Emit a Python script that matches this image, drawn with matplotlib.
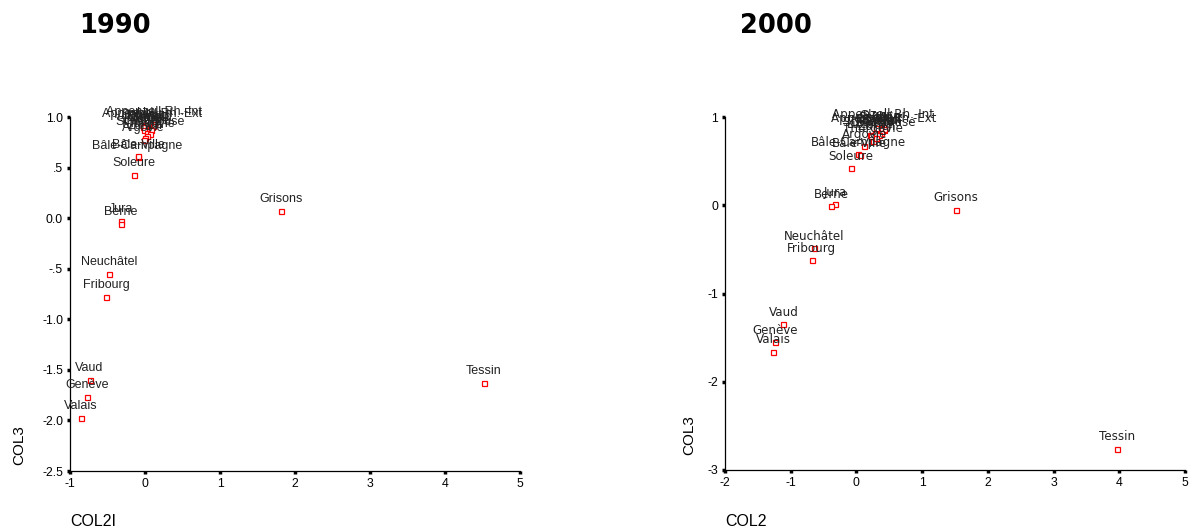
import matplotlib
matplotlib.use("Agg")
import matplotlib.pyplot as plt

plt.rcParams["axes.unicode_minus"] = False

# ---------------- data ----------------
cantons_1990 = ["Tessin", "Grisons", "Neuchâtel", "Fribourg", "Vaud", "Genève", "Valais",
                "Jura", "Berne", "Soleure", "Bâle-Campagne", "Bâle-Ville",
                "Appenzell Rh.-Int", "Appenzell Rh.-Ext", "Uri", "Schwyz", "Obwald", "Nidwald",
                "Glaris", "Zoug", "St-Gall", "Lucerne", "Schaffhouse", "Thurgovie", "Zurich", "Argovie"]
x_1990 = [4.52, 1.81, -0.48, -0.52, -0.74, -0.77, -0.85,
          -0.32, -0.32, -0.15, -0.10, -0.09,
          0.12, 0.10, 0.00, -0.03, 0.04, 0.06,
          -0.02, 0.05, 0.08, 0.02, 0.07, 0.03, 0.00, -0.02]
y_1990 = [-1.63, 0.07, -0.55, -0.78, -1.60, -1.77, -1.98,
          -0.03, -0.06, 0.43, 0.60, 0.61,
          0.93, 0.91, 0.92, 0.90, 0.89, 0.88,
          0.87, 0.86, 0.87, 0.84, 0.83, 0.81, 0.79, 0.77]

cantons_2000 = ["Tessin", "Grisons", "Neuchâtel", "Fribourg", "Vaud", "Genève", "Valais",
                "Jura", "Berne", "Soleure", "Bâle-Campagne", "Bâle-Ville",
                "Appenzell Rh.-Int", "Appenzell Rh.-Ext", "Uri", "Schwyz", "Obwald", "Nidwald",
                "Glaris", "Zoug", "St-Gall", "Lucerne", "Schaffhouse", "Thurgovie", "Zurich", "Argovie"]
x_2000 = [3.96, 1.51, -0.64, -0.68, -1.11, -1.24, -1.27,
          -0.32, -0.38, -0.08, 0.03, 0.05,
          0.40, 0.42, 0.42, 0.36, 0.32, 0.28,
          0.30, 0.20, 0.38, 0.22, 0.35, 0.25, 0.30, 0.12]
y_2000 = [-2.76, -0.05, -0.49, -0.62, -1.35, -1.55, -1.66,
          0.01, -0.01, 0.42, 0.58, 0.57,
          0.89, 0.85, 0.86, 0.86, 0.84, 0.82,
          0.88, 0.80, 0.82, 0.78, 0.80, 0.73, 0.76, 0.67]

xticks_1990 = [-1, 0, 1, 2, 3, 4, 5]
yticks_1990 = [1.0, 0.5, 0.0, -0.5, -1.0, -1.5, -2.0, -2.5]
ytick_labels_1990 = ["1.0", ".5", "0.0", "-.5", "-1.0", "-1.5", "-2.0", "-2.5"]
xticks_2000 = [-2, -1, 0, 1, 2, 3, 4, 5]
yticks_2000 = [1, 0, -1, -2, -3]

# ---------------- figure ----------------
W, H = 1191, 531
fig = plt.figure(figsize=(W / 100, H / 100), dpi=100)

tick_font = "Liberation Sans"


def style_axes(ax):
    for s in ("top", "right"):
        ax.spines[s].set_visible(False)
    for s in ("left", "bottom"):
        ax.spines[s].set_linewidth(0.9)
        ax.spines[s].set_color("black")
    ax.tick_params(direction="out", length=2, width=2.5, colors="black",
                   labelsize=8.8, pad=3)
    for lab in ax.get_xticklabels() + ax.get_yticklabels():
        lab.set_fontfamily(tick_font)


def draw_points(ax, names, xs, ys, family, size):
    ax.plot(xs, ys, linestyle="none", marker="s", markersize=3.6,
            markerfacecolor="white", markeredgecolor="#ff0000",
            markeredgewidth=0.9, clip_on=False, zorder=3)
    for n, x, y in zip(names, xs, ys):
        ax.annotate(n, (x, y), xytext=(0, 8.6), textcoords="offset points",
                    ha="center", va="center", fontsize=size, family=family,
                    color="#222222", annotation_clip=False, zorder=4)


# Left panel (1990)
ax1 = fig.add_axes([70 / W, 1 - 471 / H, 450 / W, 354 / H])
ax1.set_xlim(-1, 5)
ax1.set_ylim(-2.5, 1.0)
ax1.set_xticks(xticks_1990)
ax1.set_yticks(yticks_1990)
ax1.set_yticklabels(ytick_labels_1990)
style_axes(ax1)
draw_points(ax1, cantons_1990, x_1990, y_1990, "Liberation Sans", 9)

# Right panel (2000)
ax2 = fig.add_axes([725 / W, 1 - 470 / H, 460 / W, 353 / H])
ax2.set_xlim(-2, 5)
ax2.set_ylim(-3, 1)
ax2.set_xticks(xticks_2000)
ax2.set_yticks(yticks_2000)
style_axes(ax2)
draw_points(ax2, cantons_2000, x_2000, y_2000, "DejaVu Sans", 8.6)

# Titles
fig.text(79 / W, 1 - 26 / H, "1990", fontsize=18.5, fontweight="bold",
         family="DejaVu Sans", ha="left", va="center")
fig.text(740 / W, 1 - 26 / H, "2000", fontsize=18.5, fontweight="bold",
         family="DejaVu Sans", ha="left", va="center")

# Axis titles
fig.text(19 / W, 1 - 445 / H, "COL3", rotation=90, fontsize=11, family=tick_font,
         ha="center", va="center")
fig.text(689 / W, 1 - 435 / H, "COL3", rotation=90, fontsize=11, family=tick_font,
         ha="center", va="center")
fig.text(70 / W, 1 - 522 / H, "COL2I", fontsize=11.5, family=tick_font,
         ha="left", va="center")
fig.text(725 / W, 1 - 522 / H, "COL2", fontsize=11.5, family=tick_font,
         ha="left", va="center")

fig.savefig("out.png", dpi=100, facecolor="white")
